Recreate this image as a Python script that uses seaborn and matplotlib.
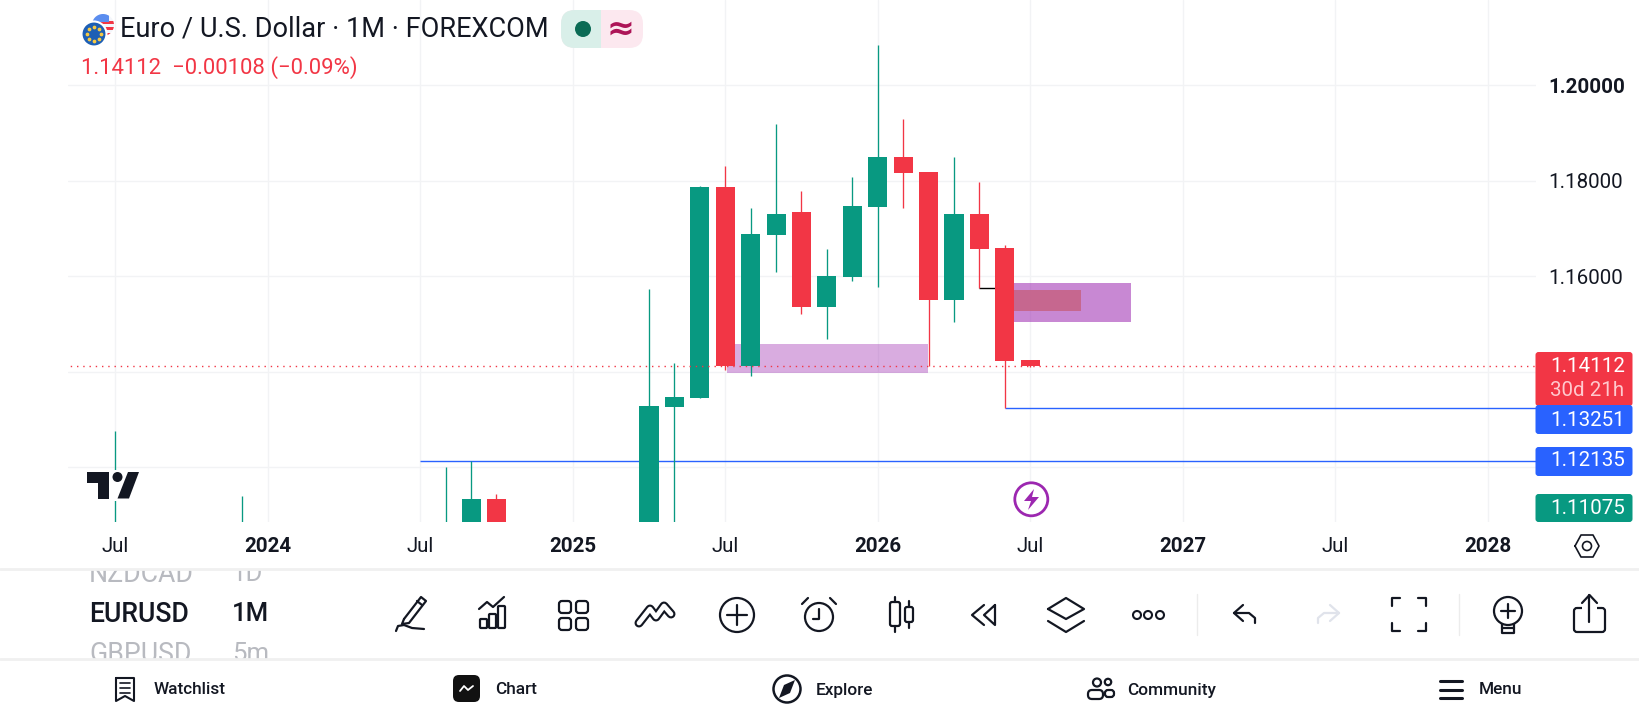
import numpy as np
import pandas as pd
import matplotlib
matplotlib.use("Agg")
import matplotlib.pyplot as plt
from matplotlib.patches import Circle, Polygon, Rectangle, FancyBboxPatch
import seaborn as sns

# -----------------------------
# DATA (months counted from Jul 2023)
# -----------------------------
month_idx = [0, 5, 13, 14, 15, 21, 22, 23, 24, 25, 26, 27, 28, 29, 30, 31, 32, 33, 34, 35, 36]
open_px = [1.09500, 1.09800, 1.09900, 1.10500, 1.11340, 1.08000, 1.13267, 1.13456, 1.17874, 1.14126, 1.16869,
           1.17351, 1.15361, 1.15990, 1.17456, 1.18503, 1.18189, 1.15508, 1.17309, 1.16597, 1.14240]
high_px = [1.12765, 1.11403, 1.12011, 1.12135, 1.11445, 1.15738, 1.14189, 1.17895, 1.18314, 1.17435, 1.19194,
           1.17791, 1.16576, 1.18084, 1.20848, 1.19298, 1.18189, 1.18503, 1.17979, 1.16660, 1.14240]
low_px = [1.08000, 1.09000, 1.09200, 1.10000, 1.09800, 1.07000, 1.09500, 1.13456, 1.14027, 1.13916, 1.16094,
          1.15215, 1.14691, 1.15906, 1.15780, 1.17435, 1.14112, 1.15047, 1.15759, 1.13251, 1.14105]
close_px = [1.10300, 1.10100, 1.10600, 1.11340, 1.10200, 1.13288, 1.13477, 1.17874, 1.14126, 1.16890, 1.17309,
            1.15361, 1.16011, 1.17476, 1.18503, 1.18168, 1.15508, 1.17309, 1.16576, 1.14230, 1.14112]

price_ticks = [1.12, 1.14, 1.16, 1.18, 1.20]
price_labels = ["", "", "1.16000", "1.18000", "1.20000"]
time_ticks = [0, 6, 12, 18, 24, 30, 36, 42, 48, 54]
time_labels = ["Jul", "2024", "Jul", "2025", "Jul", "2026", "Jul", "2027", "Jul", "2028"]

last_price = 1.14112
blue_levels = [1.13251, 1.12135]
blue_starts = [35, 12]

UP = "#089981"
DOWN = "#f23645"
BLUE = "#2962ff"
INK = "#131722"

sns.set_theme(style="white")
plt.rcParams["font.family"] = ["Roboto", "DejaVu Sans"]

df = pd.DataFrame({"month": month_idx, "open": open_px, "high": high_px, "low": low_px, "close": close_px})
df["base"] = df[["open", "close"]].min(axis=1)
df["body"] = (df["close"] - df["open"]).abs()
df["up"] = df["close"] >= df["open"]

fig = plt.figure(figsize=(16.4, 7.2), dpi=100)
ax = fig.add_axes([68 / 1640, 1 - 522 / 720, (1536 - 68) / 1640, 522 / 720])

# -----------------------------
# ZONES AND LEVELS
# -----------------------------
ax.add_patch(Rectangle((24.06, 1.13979), 7.9, 0.00607, color="#9c27b0", alpha=0.38, lw=0, zorder=1.5))
ax.add_patch(Rectangle((35, 1.15047), 4.95, 0.00817, color="#9c27b0", alpha=0.55, lw=0, zorder=1.5))
ax.add_patch(Rectangle((35, 1.15278), 3, 0.00439, color="#c66488", alpha=0.9, lw=0, zorder=1.6))

for level, start in zip(blue_levels, blue_starts):
    ax.hlines(level, start, 56, color=BLUE, lw=1.0, zorder=2)
ax.hlines(1.15759, 34, 35, color="black", lw=1.0, zorder=2)

# -----------------------------
# CANDLES
# -----------------------------
for is_up, color in [(True, UP), (False, DOWN)]:
    part = df[df["up"] == is_up]
    ax.vlines(part["month"], part["low"], part["high"], color=color, lw=0.95, zorder=3)
    sns.barplot(data=part, x="month", y="body", bottom=part["base"].to_numpy(), native_scale=True,
                color=color, saturation=1, width=0.75, errorbar=None, linewidth=0, zorder=4, ax=ax)

ax.hlines(last_price, -3, 56, color=DOWN, lw=1.0, linestyles=(0, (1, 3.5)), zorder=5)

# -----------------------------
# AXES
# -----------------------------
ax.set_xlim(-1.855, 55.895)
ax.set_ylim(1.10855, 1.21781)
ax.set_xlabel("")
ax.set_ylabel("")
ax.set_xticks(time_ticks)
ax.set_xticklabels(time_labels)
ax.yaxis.tick_right()
ax.set_yticks(price_ticks)
ax.set_yticklabels(price_labels)
ax.tick_params(axis="x", length=0, pad=11, labelsize=14.8, labelcolor=INK)
ax.tick_params(axis="y", length=0, pad=9, labelsize=14.8, labelcolor=INK)
for lab in ax.get_xticklabels():
    if lab.get_text() != "Jul":
        lab.set_fontweight("bold")
ax.get_yticklabels()[-1].set_fontweight("bold")
ax.grid(True, color="#f2f3f5", lw=1.0)
ax.set_axisbelow(True)
sns.despine(ax=ax, left=True, bottom=True, right=True, top=True)

# -----------------------------
# APP CHROME (pixel coordinates)
# -----------------------------
ui = fig.add_axes([0, 0, 1, 1], zorder=5)
ui.set_xlim(0, 1640)
ui.set_ylim(720, 0)
ui.axis("off")
ui.patch.set_alpha(0)


def line(xs, ys, color=INK, lw=1.6, z=6):
    ui.plot(xs, ys, color=color, lw=lw, solid_capstyle="round", solid_joinstyle="round", zorder=z)


def ring(x, y, r, color=INK, lw=1.6, fill="none", z=6):
    ui.add_patch(Circle((x, y), r, ec=color, fc=fill, lw=lw, zorder=z))


def box(x0, y0, x1, y1, color, rad=3, z=6):
    ui.add_patch(FancyBboxPatch((x0 + rad, y0 + rad), x1 - x0 - 2 * rad, y1 - y0 - 2 * rad,
                                boxstyle=f"round,pad={rad},rounding_size={rad}", fc=color, ec="none", zorder=z))


def outline(x0, y0, x1, y1, rad=3, color=INK, lw=1.6):
    ui.add_patch(FancyBboxPatch((x0 + rad, y0 + rad), x1 - x0 - 2 * rad, y1 - y0 - 2 * rad,
                                boxstyle=f"round,pad={rad},rounding_size={rad}", fc="none", ec=color, lw=lw, zorder=6))


# header
us = Circle((103, 25), 11, fc="#f4f6fb", ec="none", zorder=6)
ui.add_patch(us)
for y0, h, col, x0, w in [(21, 3, DOWN, 100, 16), (27, 3, DOWN, 100, 16), (33, 3, DOWN, 100, 16), (13, 9, "#5b8def", 92, 17)]:
    stripe = Rectangle((x0, y0), w, h, color=col, lw=0, zorder=6.1)
    ui.add_patch(stripe)
    stripe.set_clip_path(us)
ring(94, 34, 12.5, color="white", lw=1.5, fill="#1d5fb5", z=7)
for a in np.arange(0, 360, 45):
    ui.plot(94 + 7 * np.cos(np.radians(a)), 34 + 7 * np.sin(np.radians(a)), "o", ms=1.7, color="#f6c944", zorder=8)
ui.text(120, 29, "Euro / U.S. Dollar · 1M · FOREXCOM", fontsize=19.5, color=INK, va="center", zorder=7)
box(561, 10, 643, 48, "#fce8ef", rad=14)
box(561, 10, 601, 48, "#d9efe9", rad=14)
ui.add_patch(Rectangle((580, 10), 21.5, 38, color="#d9efe9", lw=0, zorder=6))
ring(583, 29, 8, color="#0b6b55", lw=0, fill="#0b6b55", z=7)
ui.text(621, 29, "≈", fontsize=24, color="#ad1457", ha="center", va="center", fontweight="bold",
        family="DejaVu Sans", zorder=7)
ui.text(81, 67.5, "1.14112  −0.00108 (−0.09%)", fontsize=15.9, color=DOWN, va="center", zorder=7)

# price labels
box(1535.5, 352, 1632.5, 406, DOWN)
box(1535.5, 405, 1632.5, 434, BLUE)
box(1535.5, 447, 1632.5, 476, BLUE)
box(1535.5, 494, 1632.5, 522, UP)
for y, txt, col in [(366.5, "1.14112", "white"), (391, "30d 21h", "#ffc9cd"), (420, "1.13251", "white"),
                    (461, "1.12135", "white"), (508, "1.11075", "white")]:
    ui.text(1550, y, txt, fontsize=14.8, color=col, va="center", zorder=7)

# logo
ui.add_patch(Rectangle((84, 470), 58, 31, color="white", lw=0, zorder=5))
ui.add_patch(Polygon([(87.5, 483), (87.5, 472), (109, 472), (109, 498.5), (98.5, 498.5), (98.5, 483)], color=INK, lw=0, zorder=6))
ring(117.5, 477, 5, color=INK, lw=0, fill=INK)
ui.add_patch(Polygon([(128, 472), (139, 472), (129, 498.5), (117.5, 498.5)], color=INK, lw=0, zorder=6))

# bolt badge
ring(1031.3, 499.3, 16.5, color="#9c27b0", lw=2, fill="white")
ui.add_patch(Polygon([(1034, 489), (1024, 501), (1031, 501), (1028, 510), (1039, 497), (1032, 497)],
                     color="#9c27b0", lw=0, zorder=7))

# hexagon settings
line([1575, 1581, 1593, 1599, 1593, 1581, 1575], [546, 535, 535, 546, 557, 557, 546], lw=1.2)
ring(1587, 546, 4.5, lw=1.2)

# separators
for y in [569, 659]:
    ui.plot([0, 1640], [y, y], color="#f0f0f0", lw=2, zorder=7)
for x in [1197, 1459]:
    ui.plot([x, x], [594, 635], color="#ececec", lw=1, zorder=6)

# symbol list
ui.text(89, 614, "EURUSD", fontsize=19.2, fontweight="medium", color=INK, va="center", zorder=5)
ui.text(232, 614, "1M", fontsize=18.5, fontweight="medium", color=INK, va="center", zorder=5)
ui.text(89, 574, "NZDCAD", fontsize=19.2, color="#b8bac0", va="center", zorder=5)
ui.text(232, 574, "1D", fontsize=18.5, color="#b8bac0", va="center", zorder=5)
ui.text(89, 654, "GBPUSD", fontsize=19.2, color="#b8bac0", va="center", zorder=5)
ui.text(232, 654, "5m", fontsize=18.5, color="#b8bac0", va="center", zorder=5)
ui.add_patch(Rectangle((70, 557), 240, 12, color="white", lw=0, zorder=5.5))
ui.add_patch(Rectangle((70, 659), 240, 24, color="white", lw=0, zorder=5.5))

# toolbar icons
line([404, 421, 426, 409, 402, 404], [619, 597, 601, 623, 624, 619])
line([417, 422], [601, 605])
line([396, 398, 404, 412, 424], [631, 626, 625, 628, 629])
for x0, h in [(480, 9), (489, 14), (498, 22)]:
    outline(x0, 628 - h, x0 + 7, 628, rad=1)
line([479, 487, 493, 504], [609, 602, 607, 597])
for x0 in [559, 576]:
    for y0 in [601, 618]:
        outline(x0, y0, x0 + 12, y0 + 12, rad=3)
zig_x = [639, 650, 656, 664, 671]
zig_y = [623, 609, 617, 606, 614]
ui.plot(zig_x, zig_y, color=INK, lw=6.5, zorder=6, solid_capstyle="round")
ui.plot(zig_x, zig_y, color="white", lw=3.4, zorder=6.1, solid_capstyle="round")
ring(737, 615, 17)
line([727, 747], [615, 615])
line([737, 737], [605, 625])
ring(819, 617, 14)
line([819, 819, 813], [609, 619, 619])
line([802, 808], [604, 598])
line([836, 830], [604, 598])
outline(890, 602, 900, 626, rad=2)
line([895, 895], [597, 602])
line([895, 895], [626, 632])
outline(905, 607, 913, 622, rad=2)
line([909, 909], [601, 607])
line([909, 909], [622, 628])
line([984, 972, 984], [605, 615, 625])
line([995, 984, 995, 995], [605, 615, 625, 605])
line([1048, 1066, 1084, 1066, 1048], [609, 598, 609, 619, 609])
line([1048, 1066, 1084], [621, 632, 621])
for x in [1137, 1148, 1160]:
    ring(x, 615, 4, lw=1.5)
line([1243, 1234, 1243], [605, 613, 621])
line([1234, 1249, 1255, 1255], [613, 613, 618, 623])
line([1330, 1339, 1330], [605, 613, 621], color="#e0e3eb")
line([1339, 1324, 1318, 1318], [613, 613, 618, 623], color="#e0e3eb")
for (xa, xb, xc), (ya, yb, yc) in [((1392, 1392, 1400), (606, 598, 598)), ((1418, 1426, 1426), (598, 598, 606)),
                                   ((1392, 1392, 1400), (623, 631, 631)), ((1418, 1426, 1426), (631, 631, 623))]:
    line([xa, xb, xc], [ya, yb, yc])
ring(1508, 611, 14)
line([1501, 1515], [611, 611])
line([1508, 1508], [604, 618])
line([1502, 1502, 1514, 1514], [624, 633, 633, 624])
line([1502, 1514], [628, 628])
outline(1574, 608, 1605, 632, rad=3)
ui.add_patch(Rectangle((1582, 604), 15, 8, color="white", lw=0, zorder=6.2))
line([1589.5, 1589.5], [595, 622], z=6.3)
line([1582, 1589.5, 1597], [603, 595, 603], z=6.3)

# nav bar
nav_text = ["Watchlist", "Chart", "Explore", "Community", "Menu"]
nav_x = [154, 495, 816, 1127, 1479]
for x, txt in zip(nav_x, nav_text):
    ui.text(x, 690, txt, fontsize=12.4, fontweight="medium", color=INK, va="center", zorder=6)
line([116, 116, 125, 134, 134, 116], [678, 701, 696, 701, 678, 678], lw=1.5)
for y in [683, 688, 693]:
    line([120, 130], [y, y], lw=1.2)
box(453, 675, 480, 702, "#111111", rad=6)
line([460, 464, 468, 473], [691, 686, 690, 686], color="white", lw=1.3, z=7)
ring(787, 689, 13.5, lw=1.8)
ui.add_patch(Polygon([(795, 680), (790, 693), (779, 698), (784, 685)], color=INK, lw=0, zorder=6))
ring(1097, 682.5, 4, lw=1.6)
ring(1108, 682, 3.2, lw=1.6)
outline(1088, 690, 1103, 699, rad=4)
outline(1105, 690, 1114, 697, rad=3)
for y in [681, 689.5, 698]:
    line([1440, 1462], [y, y], lw=2.2)

fig.savefig("out.png", dpi=100)
